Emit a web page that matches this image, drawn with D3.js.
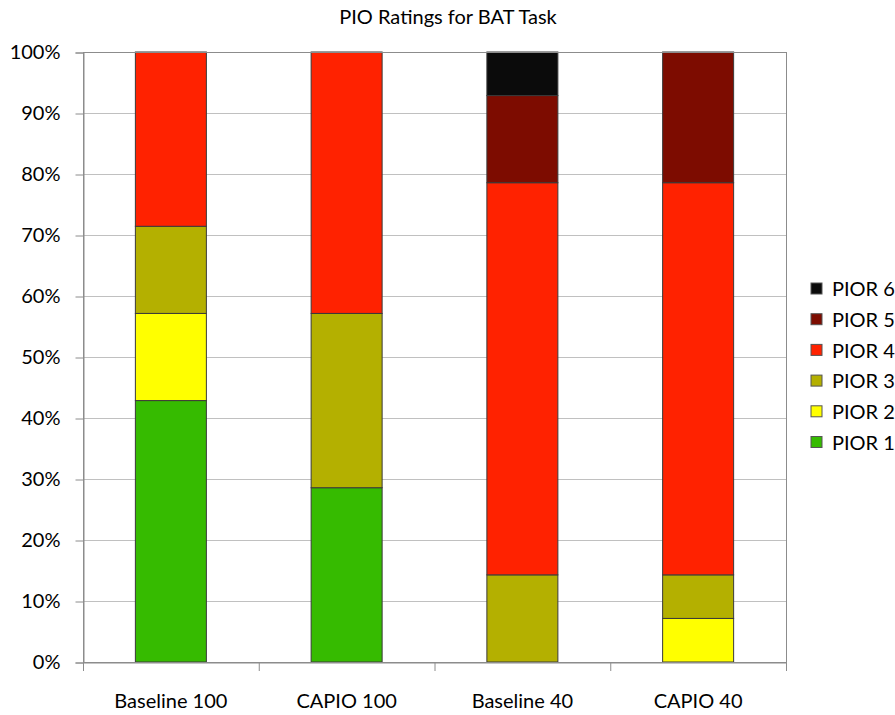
<!DOCTYPE html>
<html><head><meta charset="utf-8">
<script src="https://cdn.jsdelivr.net/npm/d3@7"></script>
<style>body{margin:0;background:#fff;} svg{display:block;}</style>
</head><body>
<svg id="chart" width="895" height="715"></svg>
<script>
const categories = ["Baseline 100", "CAPIO 100", "Baseline 40", "CAPIO 40"];
const seriesNames = ["PIOR 1", "PIOR 2", "PIOR 3", "PIOR 4", "PIOR 5", "PIOR 6"];
const seriesColors = ["#36bb00", "#ffff00", "#b4b000", "#ff2200", "#7d0c00", "#0b0b0b"];
// fractions (out of 14 ratings)
const pior1 = [6/14, 4/14, 0, 0];
const pior2 = [2/14, 0, 0, 1/14];
const pior3 = [2/14, 4/14, 2/14, 1/14];
const pior4 = [4/14, 6/14, 9/14, 9/14];
const pior5 = [0, 0, 2/14, 3/14];
const pior6 = [0, 0, 1/14, 0];
const yTicks = [0, 0.1, 0.2, 0.3, 0.4, 0.5, 0.6, 0.7, 0.8, 0.9, 1.0];
const title = "PIO Ratings for BAT Task";

const seriesValues = [pior1, pior2, pior3, pior4, pior5, pior6];
const rows = categories.map((c, i) => {
  const r = {cat: c};
  seriesNames.forEach((s, j) => r[s] = seriesValues[j][i]);
  return r;
});
const stacked = d3.stack().keys(seriesNames)(rows);

const svg = d3.select("#chart");
const font = "Lato, sans-serif";
const fs = 20;
const m = {left: 83, right: 786, top: 52, bottom: 662};

const x = d3.scaleBand().domain(categories).range([m.left, m.right]).paddingInner(0).paddingOuter(0);
const y = d3.scaleLinear().domain([0, 1]).range([m.bottom, m.top]);
const barW = 71;

// gridlines
svg.append("g").selectAll("line").data(yTicks).join("line")
  .attr("x1", m.left).attr("x2", m.right)
  .attr("y1", d => y(d) + 0.5).attr("y2", d => y(d) + 0.5)
  .attr("stroke", "#c0c0c0").attr("stroke-width", 1);

// bars
svg.append("g").selectAll("g").data(stacked).join("g")
  .attr("fill", (d, i) => seriesColors[i])
  .selectAll("rect").data(d => d.filter(p => p[1] - p[0] > 0)).join("rect")
  .attr("x", d => x(d.data.cat) + x.bandwidth() / 2 - barW / 2)
  .attr("width", barW)
  .attr("y", d => y(d[1]))
  .attr("height", d => y(d[0]) - y(d[1]))
  .attr("stroke", "#3a3a3a").attr("stroke-width", 1);

// plot border
svg.append("rect").attr("x", m.left + 0.5).attr("y", m.top + 0.5)
  .attr("width", m.right - m.left).attr("height", m.bottom - m.top)
  .attr("fill", "none").attr("stroke", "#8c8c8c").attr("stroke-width", 1);

// y axis
const yAxis = d3.axisLeft(y).tickValues(yTicks).tickFormat(d3.format(".0%")).tickSize(8).tickPadding(15);
const ya = svg.append("g").attr("transform", `translate(${m.left + 0.5},0.5)`).call(yAxis);
ya.select(".domain").attr("stroke", "#8c8c8c");
ya.selectAll(".tick line").attr("stroke", "#8c8c8c");
ya.selectAll("text").attr("font-family", font).attr("font-size", fs).attr("fill", "#000");

// x axis
const xAxis = d3.axisBottom(x).tickSize(0).tickPadding(31);
const xa = svg.append("g").attr("transform", `translate(0,${m.bottom + 0.5})`).call(xAxis);
xa.select(".domain").attr("stroke", "#8c8c8c");
xa.selectAll("text").attr("font-family", font).attr("font-size", fs).attr("fill", "#000");
// category boundary ticks
const bounds = categories.map(c => x(c)).concat([m.right]);
svg.append("g").selectAll("line").data(bounds).join("line")
  .attr("x1", d => d + 0.5).attr("x2", d => d + 0.5)
  .attr("y1", m.bottom).attr("y2", m.bottom + 9)
  .attr("stroke", "#8c8c8c");

// title
svg.append("text").attr("x", 448).attr("y", 24).attr("text-anchor", "middle")
  .attr("font-family", font).attr("font-size", fs).text(title);

// legend
const legOrder = seriesNames.map((s, i) => i).reverse();
const leg = svg.append("g").selectAll("g").data(legOrder).join("g")
  .attr("transform", (d, k) => `translate(811,${283 + k * 30.7})`);
leg.append("rect").attr("width", 11).attr("height", 11)
  .attr("fill", d => seriesColors[d]).attr("stroke", "#555").attr("stroke-width", 1);
leg.append("text").attr("x", 21).attr("y", 6).attr("dy", "0.36em")
  .attr("font-family", font).attr("font-size", fs).text(d => seriesNames[d]);
</script>
</body></html>
